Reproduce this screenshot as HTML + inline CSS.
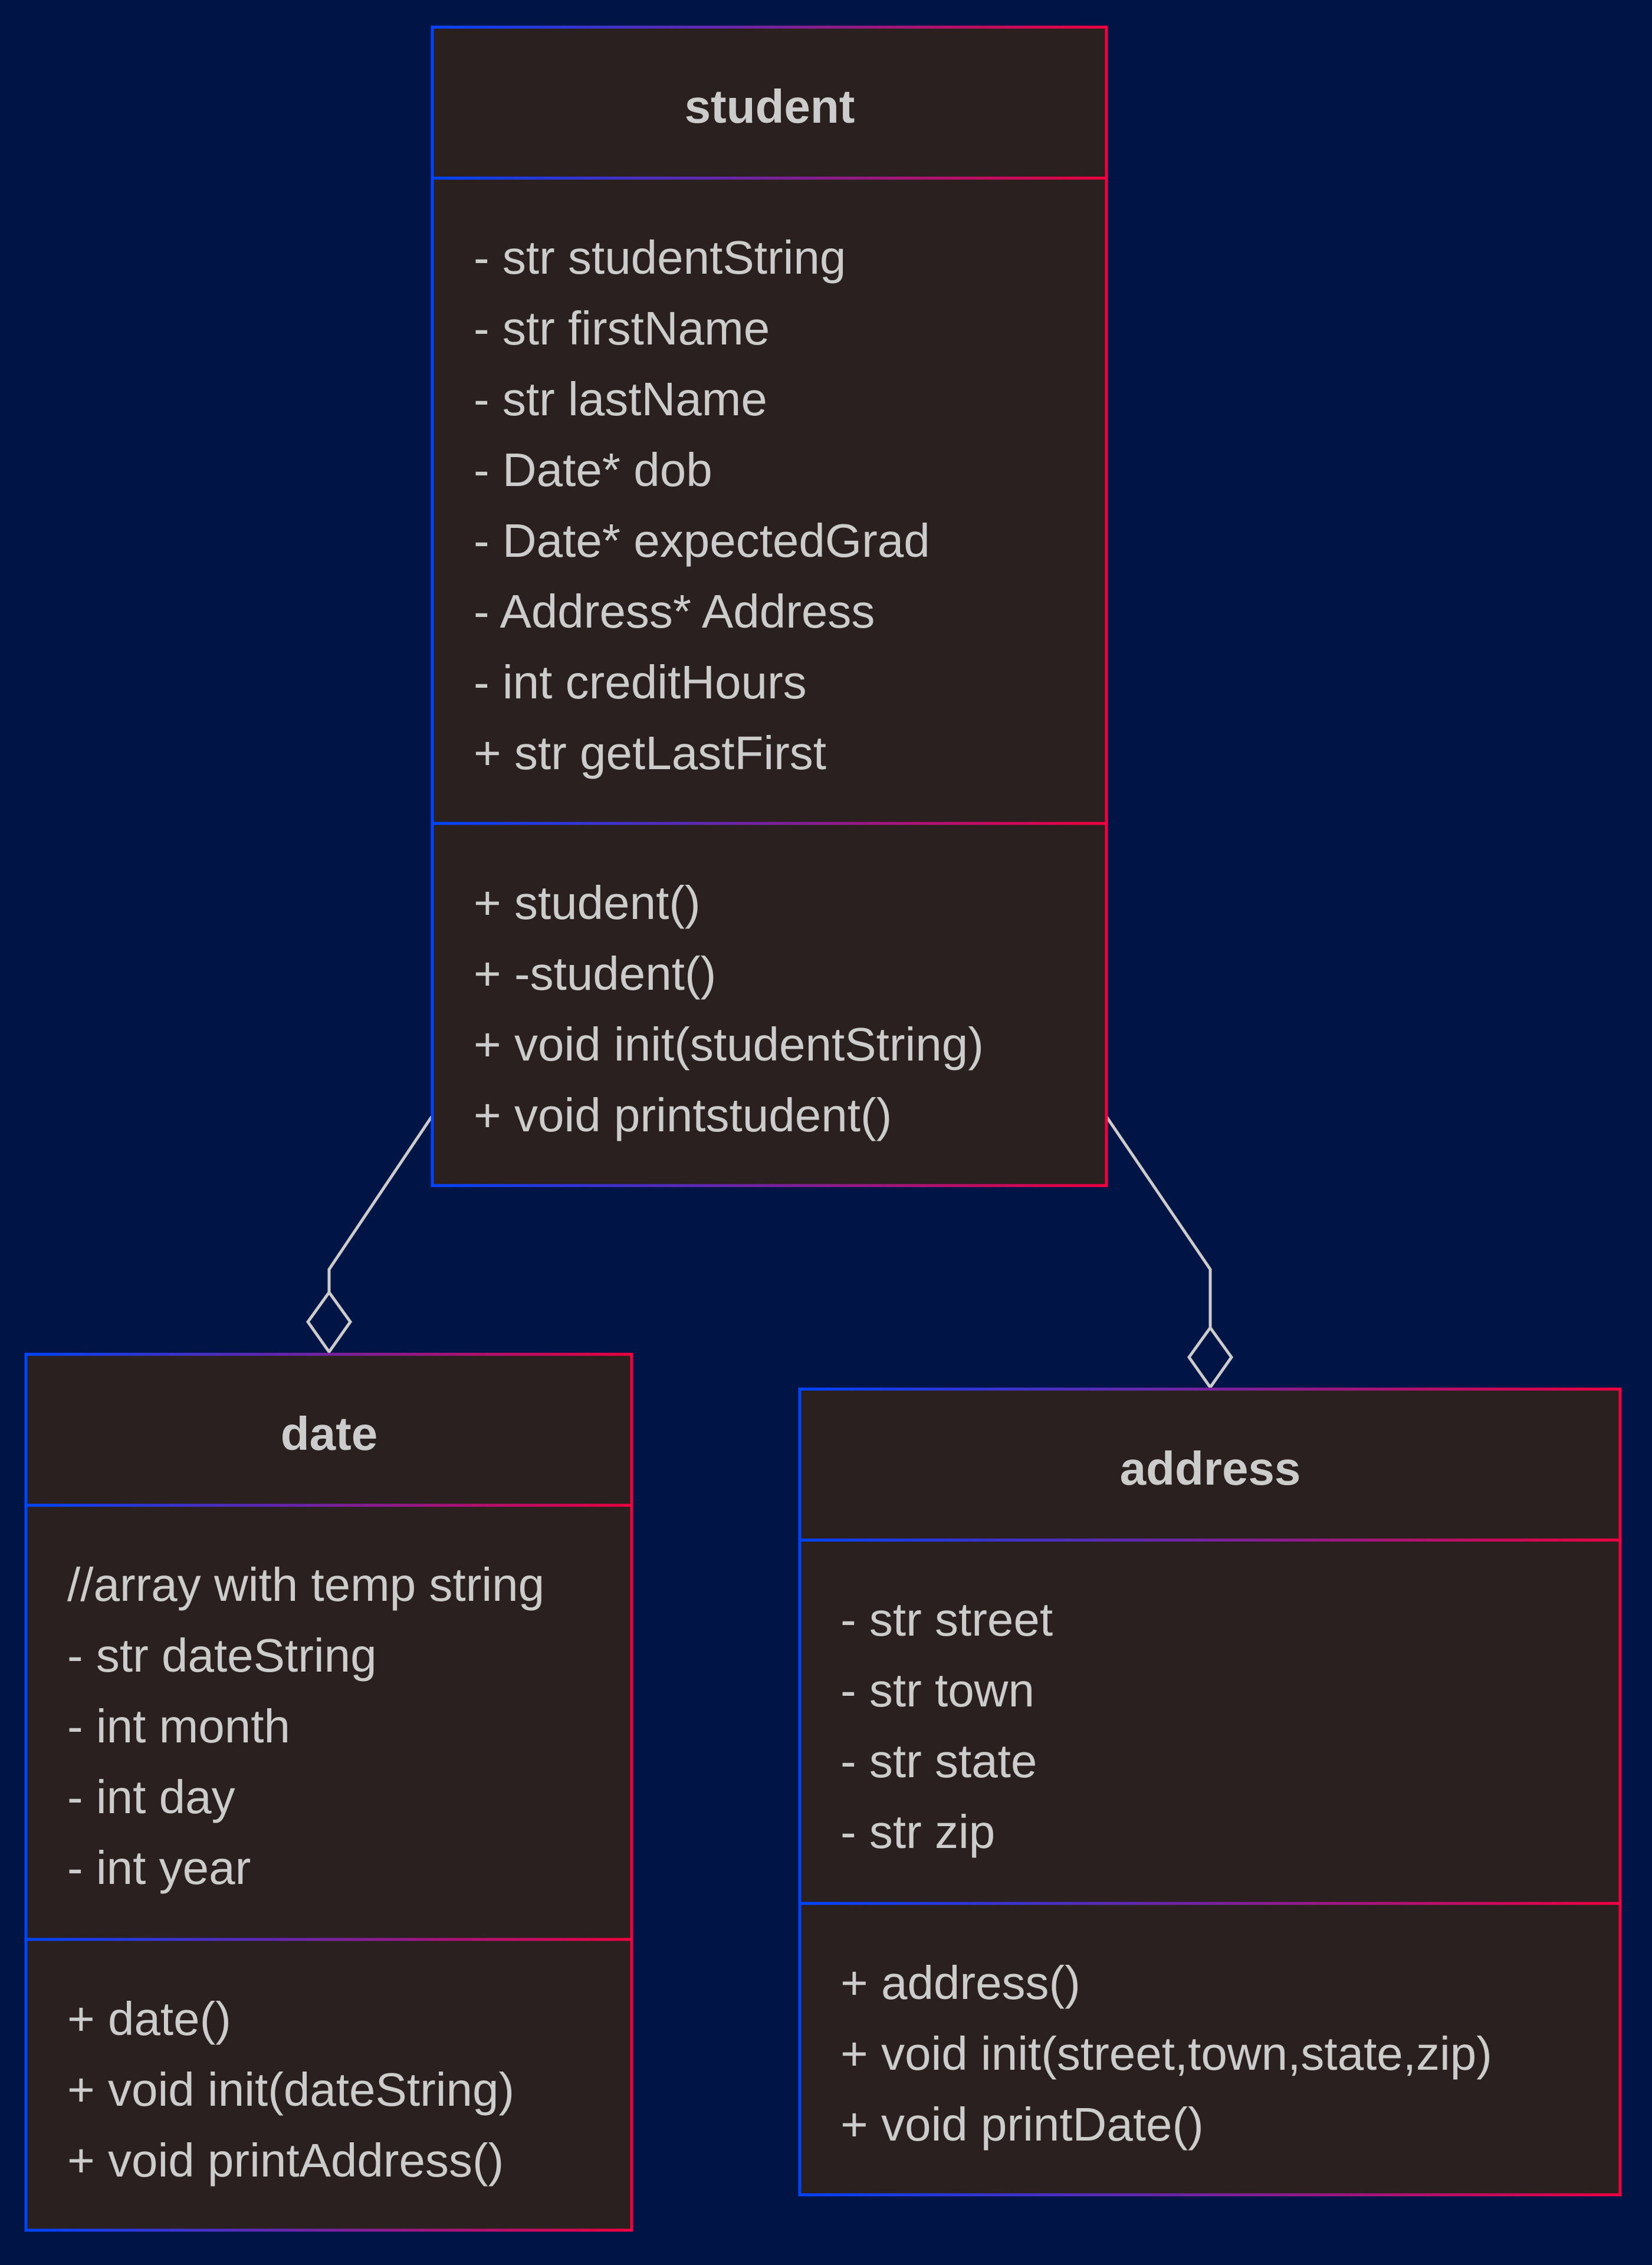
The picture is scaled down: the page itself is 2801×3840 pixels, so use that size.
<!DOCTYPE html>
<html><head><meta charset="utf-8"><style>
html,body{margin:0;padding:0;background:#001445;}
svg{display:block}
text{font-family:"Liberation Sans",Arial,sans-serif;fill:#cccccc;font-size:80px}
.t{font-weight:bold;text-anchor:middle}
</style></head><body>
<svg width="2801" height="3840" viewBox="0 0 2801 3840" xmlns="http://www.w3.org/2000/svg">
<defs>
<linearGradient id="gs" gradientUnits="userSpaceOnUse" x1="733" y1="0" x2="1876" y2="0"><stop offset="0" stop-color="#0044ff"/><stop offset="1" stop-color="#f00040"/></linearGradient>
<linearGradient id="gd" gradientUnits="userSpaceOnUse" x1="44" y1="0" x2="1071" y2="0"><stop offset="0" stop-color="#0044ff"/><stop offset="1" stop-color="#f00040"/></linearGradient>
<linearGradient id="ga" gradientUnits="userSpaceOnUse" x1="1356" y1="0" x2="2747" y2="0"><stop offset="0" stop-color="#0044ff"/><stop offset="1" stop-color="#f00040"/></linearGradient>
</defs>
<rect width="2801" height="3840" fill="#001445"/>

<g fill="none" stroke="#cccccc" stroke-width="5">
<polyline points="732,1893 558,2152 558,2191"/>
<polygon points="558,2191 594,2241 558,2292 522,2241"/>
<polyline points="1876,1893 2052,2152 2052,2251"/>
<polygon points="2052,2251 2088,2301 2052,2352 2016,2301"/>
</g>

<rect x="733" y="46" width="1143" height="1964" fill="#2a2020" stroke="url(#gs)" stroke-width="5"/>
<line x1="733" y1="302" x2="1876" y2="302" stroke="url(#gs)" stroke-width="5"/>
<line x1="733" y1="1396" x2="1876" y2="1396" stroke="url(#gs)" stroke-width="5"/>
<text class="t" x="1305" y="208">student</text>
<text x="803" y="464">- str studentString</text>
<text x="803" y="584">- str firstName</text>
<text x="803" y="704">- str lastName</text>
<text x="803" y="824">- Date* dob</text>
<text x="803" y="944">- Date* expectedGrad</text>
<text x="803" y="1064">- Address* Address</text>
<text x="803" y="1184">- int creditHours</text>
<text x="803" y="1304">+ str getLastFirst</text>
<text x="803" y="1558">+ student()</text>
<text x="803" y="1678">+ -student()</text>
<text x="803" y="1798">+ void init(studentString)</text>
<text x="803" y="1918">+ void printstudent()</text>

<rect x="44" y="2296" width="1027" height="1485" fill="#2a2020" stroke="url(#gd)" stroke-width="5"/>
<line x1="44" y1="2552" x2="1071" y2="2552" stroke="url(#gd)" stroke-width="5"/>
<line x1="44" y1="3288" x2="1071" y2="3288" stroke="url(#gd)" stroke-width="5"/>
<text class="t" x="558" y="2458">date</text>
<text x="114" y="2714">//array with temp string</text>
<text x="114" y="2834">- str dateString</text>
<text x="114" y="2954">- int month</text>
<text x="114" y="3074">- int day</text>
<text x="114" y="3194">- int year</text>
<text x="114" y="3450">+ date()</text>
<text x="114" y="3570">+ void init(dateString)</text>
<text x="114" y="3690">+ void printAddress()</text>

<rect x="1356" y="2355" width="1391" height="1366" fill="#2a2020" stroke="url(#ga)" stroke-width="5"/>
<line x1="1356" y1="2611" x2="2747" y2="2611" stroke="url(#ga)" stroke-width="5"/>
<line x1="1356" y1="3227" x2="2747" y2="3227" stroke="url(#ga)" stroke-width="5"/>
<text class="t" x="2052" y="2517">address</text>
<text x="1425" y="2773">- str street</text>
<text x="1425" y="2893">- str town</text>
<text x="1425" y="3013">- str state</text>
<text x="1425" y="3133">- str zip</text>
<text x="1425" y="3389">+ address()</text>
<text x="1425" y="3509">+ void init(street,town,state,zip)</text>
<text x="1425" y="3629">+ void printDate()</text>
</svg>
</body></html>
